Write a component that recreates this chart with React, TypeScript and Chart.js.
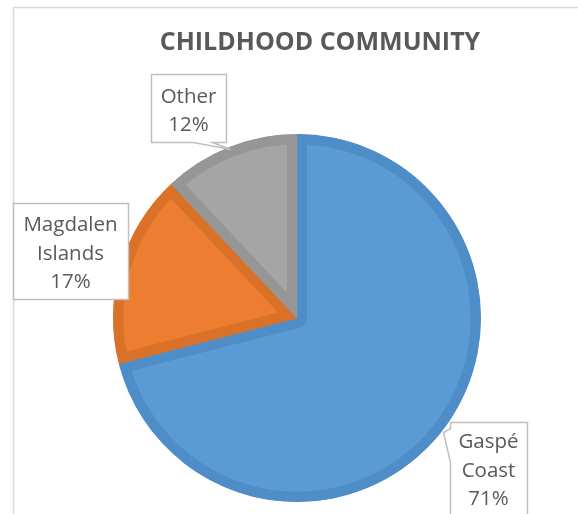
import React, { useEffect, useRef } from "react";
import { Chart, registerables } from "chart.js";

Chart.register(...registerables);

const TITLE = "CHILDHOOD COMMUNITY";
const categories = ["Gaspé Coast", "Magdalen Islands", "Other"];
const labelLines = [["Gaspé", "Coast"], ["Magdalen", "Islands"], ["Other"]];
const values = [71, 17, 12];
const fillColors = ["#5B9BD5", "#ED7D31", "#A5A5A5"];
const borderColors = ["#4F8DC8", "#D97129", "#969696"];

const TEXT = "#595959";
const FONT = "'Open Sans', 'DejaVu Sans', sans-serif";

// callout boxes: [x, y, w, h] and tail [base1, base2, tip]
const boxes = [
  { rect: [450, 422, 77, 110], tail: [[450, 428], [450, 462], [443, 432]], cy: 471 },
  { rect: [13, 203, 115, 96], tail: null, cy: 254 },
  { rect: [151, 74, 75, 68], tail: [[193, 142], [212, 142], [230, 149]], cy: 111 },
];

const overlay = {
  id: "overlay",
  afterDatasetsDraw(chart: any) {
    const ctx = chart.ctx as CanvasRenderingContext2D;
    ctx.save();
    // chart outer border
    ctx.strokeStyle = "#D9D9D9";
    ctx.lineWidth = 1.5;
    ctx.beginPath();
    ctx.moveTo(13.5, 600);
    ctx.lineTo(13.5, 7.5);
    ctx.lineTo(600, 7.5);
    ctx.stroke();

    // title
    ctx.fillStyle = TEXT;
    ctx.font = `bold 25px ${FONT}`;
    ctx.textAlign = "center";
    ctx.textBaseline = "alphabetic";
    ctx.fillText(TITLE, 320, 50);

    // callouts
    const total = values.reduce((a, b) => a + b, 0);
    boxes.forEach((b, i) => {
      const [x, y, w, h] = b.rect;
      ctx.beginPath();
      if (b.tail) {
        const [p1, p2, tip] = b.tail;
        if (p1[1] === p2[1] && p1[1] === y + h) {
          ctx.moveTo(x + 0.5, y + 0.5);
          ctx.lineTo(x + w + 0.5, y + 0.5);
          ctx.lineTo(x + w + 0.5, y + h + 0.5);
          ctx.lineTo(p2[0] + 0.5, p2[1] + 0.5);
          ctx.lineTo(tip[0] + 0.5, tip[1] + 0.5);
          ctx.lineTo(p1[0] + 0.5, p1[1] + 0.5);
          ctx.lineTo(x + 0.5, y + h + 0.5);
          ctx.closePath();
        } else {
          ctx.moveTo(x + 0.5, y + 0.5);
          ctx.lineTo(x + w + 0.5, y + 0.5);
          ctx.lineTo(x + w + 0.5, y + h + 0.5);
          ctx.lineTo(x + 0.5, y + h + 0.5);
          ctx.lineTo(p2[0] + 0.5, p2[1] + 0.5);
          ctx.lineTo(tip[0] + 0.5, tip[1] + 0.5);
          ctx.lineTo(p1[0] + 0.5, p1[1] + 0.5);
          ctx.closePath();
        }
      } else {
        ctx.rect(x + 0.5, y + 0.5, w, h);
      }
      ctx.fillStyle = "#FFFFFF";
      ctx.fill();
      ctx.strokeStyle = "#BFBFBF";
      ctx.lineWidth = 1.5;
      ctx.stroke();

      const lines = [...labelLines[i], Math.round((values[i] / total) * 100) + "%"];
      ctx.fillStyle = TEXT;
      ctx.font = `20.5px ${FONT}`;
      ctx.textAlign = "center";
      ctx.textBaseline = "middle";
      const lh = 28.5;
      lines.forEach((t, k) => {
        ctx.fillText(t, x + w / 2, b.cy + (k - (lines.length - 1) / 2) * lh);
      });
    });
    ctx.restore();
  },
};

export default function App() {
  const ref = useRef<HTMLCanvasElement>(null);
  useEffect(() => {
    document.body.style.margin = "0";
    const chart = new Chart(ref.current as HTMLCanvasElement, {
      type: "pie",
      data: {
        labels: categories,
        datasets: [
          {
            data: values,
            backgroundColor: fillColors,
            borderColor: borderColors,
            borderWidth: 10,
            borderAlign: "inner",
            hoverOffset: 0,
          } as any,
        ],
      },
      options: {
        animation: false,
        responsive: false,
        events: [],
        layout: { padding: { left: 113, right: 97, top: 134, bottom: 12 } },
        plugins: {
          legend: { display: false },
          title: { display: false },
          tooltip: { enabled: false },
        },
      },
      plugins: [overlay],
    });
    return () => chart.destroy();
  }, []);
  return (
    <div style={{ position: "fixed", left: 0, top: 0, width: 578, height: 514, background: "#fff" }}>
      <canvas ref={ref} width={578} height={514} style={{ display: "block" }} />
    </div>
  );
}
